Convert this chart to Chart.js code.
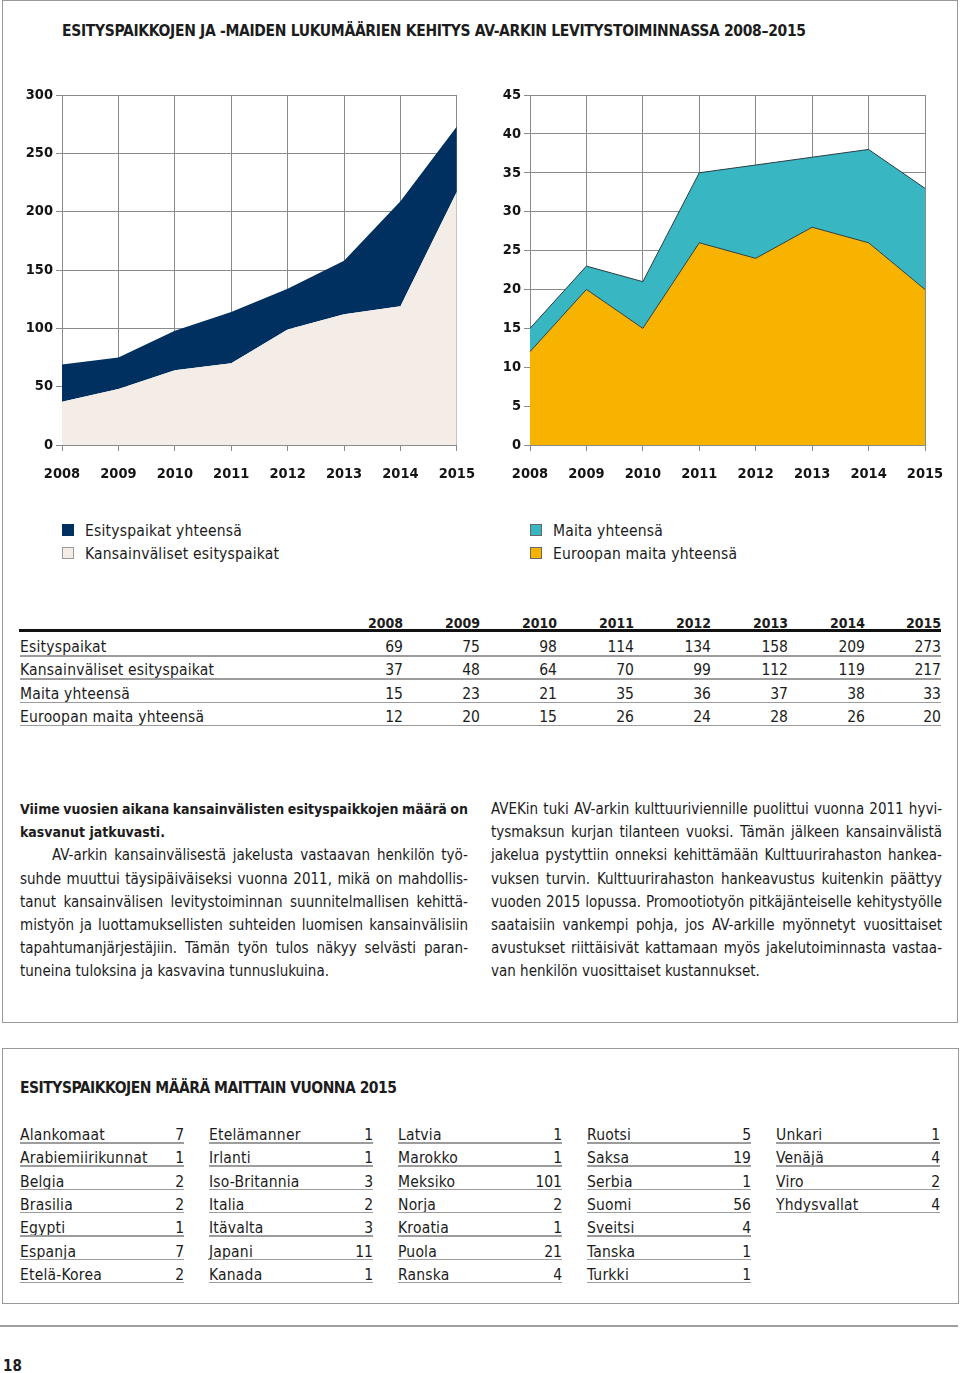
<!DOCTYPE html>
<html lang="fi">
<head>
<meta charset="utf-8">
<script src="https://cdn.jsdelivr.net/npm/chart.js@4.4.1/dist/chart.umd.min.js"></script>
<style>
  html,body{margin:0;padding:0;background:#fff;}
  body{width:960px;height:1373px;position:relative;overflow:hidden;
       font-family:"Liberation Sans Narrow","DejaVu Sans Condensed",sans-serif;color:#1c1c1c;}
  .abs{position:absolute;}
  .bold{font-family:"DejaVu Sans Condensed","Liberation Sans Narrow",sans-serif;font-weight:bold;}
  .box{position:absolute;border:1.5px solid #9a9a9a;box-sizing:border-box;}
  .line{position:absolute;white-space:nowrap;line-height:20px;height:20px;}
  .cell{position:absolute;white-space:nowrap;line-height:18px;}
  .rule{position:absolute;height:1.5px;background:#9c9c9c;}
</style>
</head>
<body>
<div class="box" style="left:2px;top:0;width:956px;height:1023px;"></div>
<div class="box" style="left:2px;top:1048px;width:957px;height:256px;"></div>
<div class="rule" style="left:0;top:1325px;width:958px;height:2px;background:#a0a0a0;"></div>

<div id="title1" class="abs bold" style="left:62px;top:21px;font-size:15.5px;line-height:20px;white-space:nowrap;">ESITYSPAIKKOJEN JA -MAIDEN LUKUMÄÄRIEN KEHITYS AV-ARKIN LEVITYSTOIMINNASSA 2008–2015</div>

<canvas id="c1" class="abs" width="490" height="420" style="left:0;top:80px;"></canvas>
<canvas id="c2" class="abs" width="480" height="420" style="left:480px;top:80px;"></canvas>

<div id="legend"></div>
<div id="table1"></div>
<div id="text"></div>

<div id="title2" class="abs bold" style="left:20px;top:1078px;font-size:15.5px;line-height:20px;white-space:nowrap;">ESITYSPAIKKOJEN MÄÄRÄ MAITTAIN VUONNA 2015</div>
<div id="table2"></div>

<div class="abs bold" style="left:3px;top:1357px;font-size:15px;line-height:18px;">18</div>

<script>
// ---------------- DATA ----------------
const years = ['2008','2009','2010','2011','2012','2013','2014','2015'];
const esityspaikat = [69, 75, 98, 114, 134, 158, 209, 273];
const kansainvaliset = [37, 48, 64, 70, 99, 112, 119, 217];
const maitaYhteensa = [15, 23, 21, 35, 36, 37, 38, 33];
const euroopanMaita = [12, 20, 15, 26, 24, 28, 26, 20];

const seriesNames = ['Esityspaikat', 'Kansainväliset esityspaikat', 'Maita yhteensä', 'Euroopan maita yhteensä'];
const legendLeft = ['Esityspaikat yhteensä', 'Kansainväliset esityspaikat'];
const legendRight = ['Maita yhteensä', 'Euroopan maita yhteensä'];

const leftTickMax = 300, leftTickStep = 50;
const rightTickMax = 45, rightTickStep = 5;

const countryCols = [
  ['Alankomaat','Arabiemiirikunnat','Belgia','Brasilia','Egypti','Espanja','Etelä-Korea'],
  ['Etelämanner','Irlanti','Iso-Britannia','Italia','Itävalta','Japani','Kanada'],
  ['Latvia','Marokko','Meksiko','Norja','Kroatia','Puola','Ranska'],
  ['Ruotsi','Saksa','Serbia','Suomi','Sveitsi','Tanska','Turkki'],
  ['Unkari','Venäjä','Viro','Yhdysvallat']
];
const countryCounts = [
  [7, 1, 2, 2, 1, 7, 2],
  [1, 1, 3, 2, 3, 11, 1],
  [1, 1, 101, 2, 1, 21, 4],
  [5, 19, 1, 56, 4, 1, 1],
  [1, 4, 2, 4]
];

const leftText = [
  {t:'Viime vuosien aikana kansainvälisten esityspaikkojen määrä on', b:true, j:true},
  {t:'kasvanut jatkuvasti.', b:true, j:false},
  {t:'AV-arkin kansainvälisestä jakelusta vastaavan henkilön työ-', j:true, indent:32},
  {t:'suhde muuttui täysipäiväiseksi vuonna 2011, mikä on mahdollis-', j:true},
  {t:'tanut kansainvälisen levitystoiminnan suunnitelmallisen kehittä-', j:true},
  {t:'mistyön ja luottamuksellisten suhteiden luomisen kansainvälisiin', j:true},
  {t:'tapahtumanjärjestäjiin. Tämän työn tulos näkyy selvästi paran-', j:true},
  {t:'tuneina tuloksina ja kasvavina tunnuslukuina.', j:false}
];
const rightText = [
  {t:'AVEKin tuki AV-arkin kulttuuriviennille puolittui vuonna 2011 hyvi-', j:true},
  {t:'tysmaksun kurjan tilanteen vuoksi. Tämän jälkeen kansainvälistä', j:true},
  {t:'jakelua pystyttiin onneksi kehittämään Kulttuurirahaston hankea-', j:true},
  {t:'vuksen turvin. Kulttuurirahaston hankeavustus kuitenkin päättyy', j:true},
  {t:'vuoden 2015 lopussa. Promootiotyön pitkäjänteiselle kehitystyölle', j:true},
  {t:'saataisiin vankempi pohja, jos AV-arkille myönnetyt vuosittaiset', j:true},
  {t:'avustukset riittäisivät kattamaan myös jakelutoiminnasta vastaa-', j:true},
  {t:'van henkilön vuosittaiset kustannukset.', j:false}
];

// ---------------- HELPERS ----------------
function el(parent, cls, style, text){
  const d = document.createElement('div');
  if(cls) d.className = cls;
  Object.assign(d.style, style||{});
  if(text!==undefined) d.textContent = text;
  parent.appendChild(d);
  return d;
}
function fitWord(d, target){
  d.style.display='inline-block';
  const w = d.getBoundingClientRect().width;
  const n = (d.textContent.match(/ /g)||[]).length;
  if(n) d.style.wordSpacing = ((target - w)/n) + 'px';
}
function fitLetter(d, target){
  d.style.display='inline-block';
  const w = d.getBoundingClientRect().width;
  d.style.letterSpacing = ((target - w)/(d.textContent.length-1)) + 'px';
}

// titles
fitLetter(document.getElementById('title1'), 744);
fitLetter(document.getElementById('title2'), 377);

// ---------------- LEGEND ----------------
const COL_NAVY = '#00305f', COL_LIGHT = '#f4ece7', COL_TEAL = '#38b7c2', COL_ORANGE = '#f8b300';
const lg = document.getElementById('legend');
[[62, legendLeft, [COL_NAVY, COL_LIGHT]], [530, legendRight, [COL_TEAL, COL_ORANGE]]].forEach(([x, names, cols])=>{
  names.forEach((n,i)=>{
    const y = 530 + i*23;
    el(lg, 'abs', {left:x+'px', top:(y-6)+'px', width:'12px', height:'12px', background:cols[i],
      boxSizing:'border-box', border: '1px solid ' + (cols[i]===COL_LIGHT ? '#9a9a9a' : (cols[i]===COL_NAVY?COL_NAVY:'#666'))});
    el(lg, 'abs', {left:(x+23)+'px', top:(y-9)+'px', fontSize:'15.5px', lineHeight:'20px', whiteSpace:'nowrap', letterSpacing:'0.2px'}, n);
  });
});

// ---------------- TABLE 1 ----------------
const t1 = document.getElementById('table1');
const colRight = [403, 480, 557, 634, 711, 788, 865, 941];
years.forEach((yr,i)=>{
  el(t1, 'cell bold', {left:(colRight[i]-60)+'px', width:'60px', textAlign:'right', top:'614px', fontSize:'14px'}, yr);
});
el(t1, 'rule', {left:'19px', top:'629px', width:'922px', height:'2.5px', background:'#111'});
const rows = [esityspaikat, kansainvaliset, maitaYhteensa, euroopanMaita];
rows.forEach((vals, r)=>{
  const cy = 646 + r*23.3;
  el(t1, 'cell', {left:'20px', top:(cy-8)+'px', fontSize:'15.5px', letterSpacing:'0.2px'}, seriesNames[r]);
  vals.forEach((v,i)=>{
    el(t1, 'cell', {left:(colRight[i]-60)+'px', width:'60px', textAlign:'right', top:(cy-8)+'px', fontSize:'15.5px'}, String(v));
  });
  el(t1, 'rule', {left:'20px', top:(cy+9)+'px', width:'921px'});
});

// ---------------- TEXT ----------------
const tx = document.getElementById('text');
function drawCol(lines, x0, width){
  lines.forEach((ln,i)=>{
    const cy = 809 + i*23.2;
    const ind = ln.indent||0;
    const d = el(tx, 'line' + (ln.b?' bold':''), {left:(x0+ind)+'px', top:(cy-10)+'px', fontSize: ln.b? '14px':'15px'}, ln.t);
    if(ln.j) fitWord(d, width - ind);
  });
}
drawCol(leftText, 20, 448);
drawCol(rightText, 491, 451);

// ---------------- TABLE 2 ----------------
const t2 = document.getElementById('table2');
const cStart = [20, 209, 398, 587, 776];
countryCols.forEach((col, c)=>{
  col.forEach((name, r)=>{
    const cy = 1135 + r*23.33;
    el(t2, 'cell', {left:cStart[c]+'px', top:(cy-9)+'px', fontSize:'15.5px', letterSpacing:'0.2px'}, name);
    el(t2, 'cell', {left:(cStart[c]+104)+'px', width:'60px', textAlign:'right', top:(cy-9)+'px', fontSize:'15.5px'}, String(countryCounts[c][r]));
    el(t2, 'rule', {left:cStart[c]+'px', top:(cy+7)+'px', width:'164px'});
  });
});

// ---------------- CHARTS ----------------
const tickFont = {family:'"DejaVu Sans Condensed", sans-serif', weight:'bold', size:14.5};
function makeScales(max, step, yWidth){
  return {
    x: {
      offset:false,
      grid:{color:'#8a8a8a', lineWidth:1, tickLength:6, drawTicks:true},
      border:{color:'#8a8a8a', width:1},
      ticks:{font:tickFont, color:'#141414', padding:15, autoSkip:false, maxRotation:0},
      afterFit: s => { s.height = 55; }
    },
    y: {
      min:0, max:max,
      grid:{color:'#8a8a8a', lineWidth:1, tickLength:6},
      border:{color:'#8a8a8a', width:1},
      ticks:{font:tickFont, color:'#141414', padding:3, stepSize:step},
      afterFit: s => { s.width = yWidth; }
    }
  };
}
const common = {
  responsive:false, animation:false, devicePixelRatio:1,
  plugins:{legend:{display:false}, tooltip:{enabled:false}},
  elements:{point:{radius:0}, line:{tension:0}}
};

new Chart(document.getElementById('c1'), {
  type:'line',
  data:{labels:years, datasets:[
    {label:legendLeft[1], data:kansainvaliset, fill:'origin', backgroundColor:COL_LIGHT, borderColor:COL_LIGHT, borderWidth:0},
    {label:legendLeft[0], data:esityspaikat, fill:'-1', backgroundColor:COL_NAVY, borderColor:COL_NAVY, borderWidth:0}
  ]},
  options:Object.assign({}, common, {
    layout:{padding:{left:0, right:33, top:15, bottom:0}},
    scales: makeScales(leftTickMax, leftTickStep, 62)
  })
});

new Chart(document.getElementById('c2'), {
  type:'line',
  data:{labels:years, datasets:[
    {label:legendRight[1], data:euroopanMaita, fill:'origin', backgroundColor:COL_ORANGE, borderColor:'#2b3d44', borderWidth:1},
    {label:legendRight[0], data:maitaYhteensa, fill:'-1', backgroundColor:COL_TEAL, borderColor:'#2b3d44', borderWidth:1}
  ]},
  options:Object.assign({}, common, {
    layout:{padding:{left:0, right:35, top:15, bottom:0}},
    scales: makeScales(rightTickMax, rightTickStep, 50)
  })
});
</script>
</body>
</html>
